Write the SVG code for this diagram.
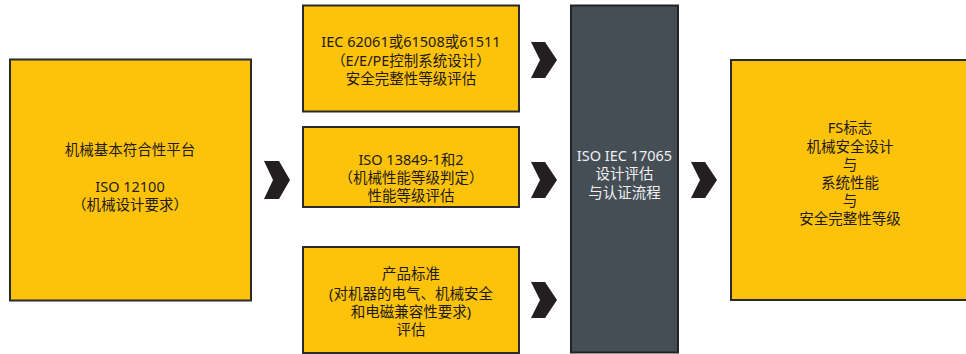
<svg xmlns="http://www.w3.org/2000/svg" width="966" height="354" viewBox="0 0 966 354">
<style>
.box{fill:#FDC30B;stroke:#2a2a2a;stroke-width:2}
.dark{fill:#454D55;stroke:#232323;stroke-width:2}
.t{font-family:"Noto Sans","Noto Sans CJK SC",sans-serif;font-size:14.5px;fill:#1e1a14;text-anchor:middle}
.w{fill:#eef0f2}
.chev{fill:#231F20}
</style>
<rect width="966" height="354" fill="#ffffff"/>
<g id="left">
<rect class="box" x="10" y="59.5" width="241" height="241"/>
<text class="t" x="130" y="155">机械基本符合性平台</text>
<text class="t" x="130" y="192">ISO 12100</text>
<text class="t" x="130" y="210">（机械设计要求）</text>
</g>
<g id="iec">
<rect class="box" x="303" y="5.5" width="216" height="106"/>
<text class="t" x="411" y="47">IEC 62061或61508或61511</text>
<text class="t" x="411" y="66">（E/E/PE控制系统设计）</text>
<text class="t" x="411" y="84">安全完整性等级评估</text>
</g>
<g id="iso13849">
<rect class="box" x="303" y="127" width="216" height="80"/>
<text class="t" x="411" y="165">ISO 13849-1和2</text>
<text class="t" x="411" y="183">（机械性能等级判定）</text>
<text class="t" x="411" y="201">性能等级评估</text>
</g>
<g id="product">
<rect class="box" x="303" y="247" width="216" height="106"/>
<text class="t" x="411" y="279">产品标准</text>
<text class="t" x="411" y="299">(对机器的电气、机械安全</text>
<text class="t" x="411" y="317">和电磁兼容性要求)</text>
<text class="t" x="411" y="335">评估</text>
</g>
<g id="cert">
<rect class="dark" x="571" y="5.5" width="107" height="347"/>
<text class="t w" x="624.5" y="161">ISO IEC 17065</text>
<text class="t w" x="624.5" y="179">设计评估</text>
<text class="t w" x="624.5" y="198">与认证流程</text>
</g>
<g id="result">
<rect class="box" x="731" y="60" width="240" height="240"/>
<text class="t" x="850" y="133">FS标志</text>
<text class="t" x="850" y="152">机械安全设计</text>
<text class="t" x="850" y="170">与</text>
<text class="t" x="850" y="188">系统性能</text>
<text class="t" x="850" y="206">与</text>
<text class="t" x="850" y="224">安全完整性等级</text>
</g>
<g id="connectors">
<polygon class="chev" points="264,161 279,161 290,180 279,199 264,199 273,180"/>
<polygon class="chev" points="531,42 545,42 557,60 545,78 531,78 540,60"/>
<polygon class="chev" points="531,162 545,162 557,180 545,198 531,198 540,180"/>
<polygon class="chev" points="531,282 545,282 557,300 545,318 531,318 540,300"/>
<polygon class="chev" points="691,162 705,162 717,180 705,198 691,198 700,180"/>
</g>
</svg>
